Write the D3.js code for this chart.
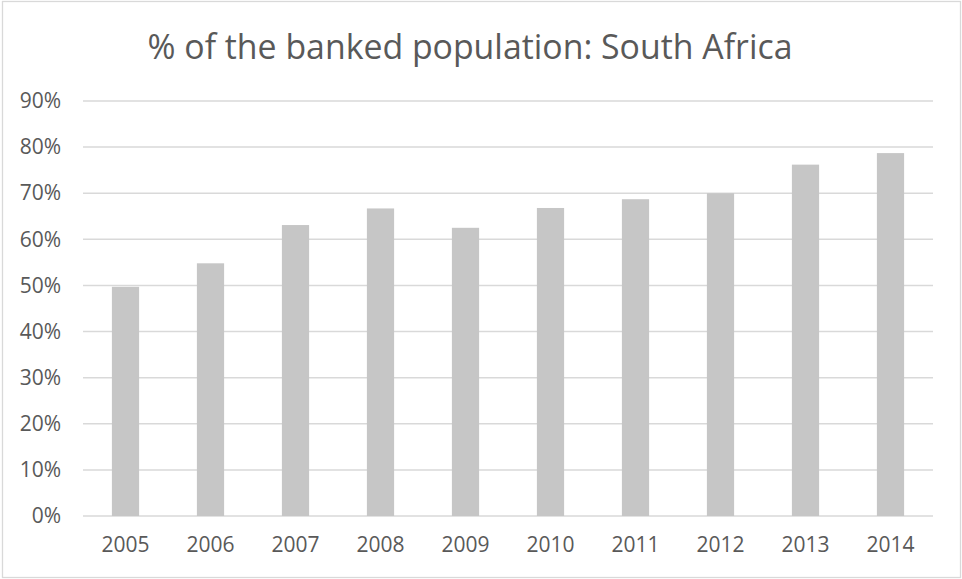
<!DOCTYPE html>
<html>
<head>
<meta charset="utf-8">
<script src="https://cdn.jsdelivr.net/npm/d3@7"></script>
<style>
  body { margin: 0; background: #fff; }
  svg { display: block; font-family: "Open Sans", sans-serif; }
</style>
</head>
<body>
<div class="container"></div>
<script>
//chart data
var years = ["2005", "2006", "2007", "2008", "2009", "2010", "2011", "2012", "2013", "2014"];
var banked = [49.7, 54.8, 63.1, 66.7, 62.5, 66.8, 68.7, 70.0, 76.2, 78.7];
var yTicks = [0, 10, 20, 30, 40, 50, 60, 70, 80, 90];
var titleText = "% of the banked population: South Africa";

(function () {
    var width = 962,
        height = 579;
    var margin = { top: 101, right: 29, bottom: 63, left: 83 };
    var innerW = width - margin.left - margin.right,
        innerH = height - margin.top - margin.bottom;

    var svg = d3.select(".container")
        .append("svg")
        .attr("width", width)
        .attr("height", height);

    //outer frame
    svg.append("rect")
        .attr("x", 2.5).attr("y", 1.5)
        .attr("width", width - 4).attr("height", height - 3)
        .attr("fill", "#fff")
        .attr("stroke", "#d9d9d9")
        .attr("stroke-width", 1.3);

    var g = svg.append("g")
        .attr("transform", "translate(" + margin.left + "," + margin.top + ")");

    var x = d3.scaleBand()
        .domain(years)
        .range([0, innerW])
        .paddingInner(0.68)
        .paddingOuter(0.34);

    var y = d3.scaleLinear()
        .domain([0, 90])
        .range([innerH, 0]);

    //gridlines
    g.selectAll(".grid")
        .data(yTicks)
        .enter()
        .append("line")
        .attr("class", "grid")
        .attr("x1", 0).attr("x2", innerW)
        .attr("y1", function (d) { return y(d); })
        .attr("y2", function (d) { return y(d); })
        .attr("stroke", "#d9d9d9")
        .attr("stroke-width", 1.5);

    //bars
    g.selectAll(".bar")
        .data(banked)
        .enter()
        .append("rect")
        .attr("class", "bar")
        .attr("x", function (d, i) { return x(years[i]); })
        .attr("width", x.bandwidth())
        .attr("y", function (d) { return y(d); })
        .attr("height", function (d) { return innerH - y(d); })
        .attr("fill", "#c6c6c6");

    //y axis labels
    var yAxis = d3.axisLeft(y)
        .tickValues(yTicks)
        .tickSize(0)
        .tickPadding(22)
        .tickFormat(function (d) { return d + "%"; });
    var ya = g.append("g").call(yAxis);
    ya.select(".domain").remove();
    ya.selectAll("text")
        .attr("fill", "#595959")
        .style("font-size", "21px")
        .style("font-family", "'Open Sans', sans-serif");

    //x axis labels
    var xAxis = d3.axisBottom(x).tickSize(0).tickPadding(21);
    var xa = g.append("g")
        .attr("transform", "translate(0," + innerH + ")")
        .call(xAxis);
    xa.select(".domain").remove();
    xa.selectAll("text")
        .attr("fill", "#595959")
        .style("font-size", "21px")
        .style("font-family", "'Open Sans', sans-serif");

    //title, sized to fit the original width
    var title = svg.append("text")
        .attr("x", 470)
        .attr("y", 59)
        .attr("text-anchor", "middle")
        .attr("fill", "#595959")
        .style("font-size", "100px")
        .text(titleText);
    var w = title.node().getComputedTextLength();
    title.style("font-size", (100 * 645 / w) + "px");
})();
</script>
</body>
</html>
